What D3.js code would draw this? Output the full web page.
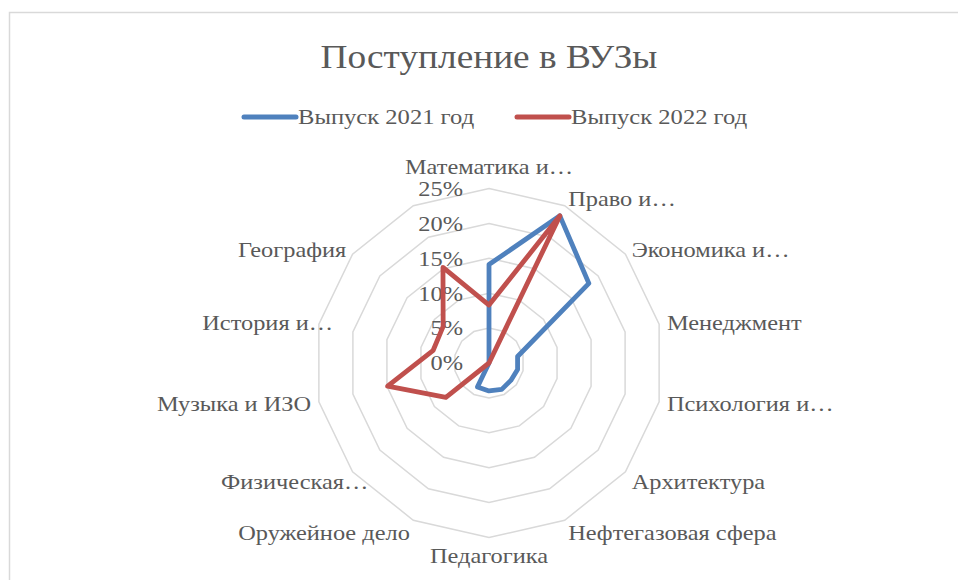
<!DOCTYPE html>
<html>
<head>
<meta charset="utf-8">
<script src="https://cdn.jsdelivr.net/npm/d3@7"></script>
<style>
  body { margin: 0; background: #fff; }
  svg text { font-family: "Liberation Serif", "Times New Roman", serif; fill: #595959; }
</style>
</head>
<body>
<svg id="chart" width="958" height="580"></svg>
<script>
// Data
var categories = ['Математика и…', 'Право и…', 'Экономика и…', 'Менеджмент', 'Психология и…',
  'Архитектура', 'Нефтегазовая сфера', 'Педагогика', 'Оружейное дело', 'Физическая…',
  'Музыка и ИЗО', 'История и…', 'География', ''];
var series2021 = [0.141, 0.234, 0.183, 0.042, 0.042, 0.040, 0.042, 0.040, 0.038, 0, 0, 0, 0, 0];
var series2022 = [0.083, 0.234, 0, 0, 0, 0, 0, 0, 0, 0.079, 0.149, 0.082, 0.084, 0.152];
var seriesNames = ['Выпуск 2021 год', 'Выпуск 2022 год'];
var ticks = [0, 0.05, 0.10, 0.15, 0.20, 0.25];

var colors = ['#4f81bd', '#c0504d'];

// Layout
var cx = 489, cy = 363, R = 174.5;

var svg = d3.select('#chart');

// the source text is a bit wider than Liberation Serif, stretch it
function stretch(sel, k) {
  sel.each(function () {
    var len = this.getComputedTextLength();
    if (len > 0) {
      d3.select(this)
        .attr('textLength', len * k)
        .attr('lengthAdjust', 'spacingAndGlyphs');
    }
  });
}

// chart border (runs past the bottom and right edge)
svg.append('rect')
  .attr('x', 9.5).attr('y', 12.5)
  .attr('width', 960).attr('height', 580)
  .attr('fill', 'none')
  .attr('stroke', '#d9d9d9')
  .attr('stroke-width', 1.5);

// title
svg.append('text')
  .attr('x', 489).attr('y', 68)
  .attr('text-anchor', 'middle')
  .style('font-size', '33px')
  .text('Поступление в ВУЗы')
  .call(stretch, 1.13);

// legend
var legendX = [244, 517];
seriesNames.forEach(function (name, i) {
  var g = svg.append('g').attr('transform', 'translate(' + legendX[i] + ',117)');
  g.append('line')
    .attr('x1', 0).attr('x2', 52)
    .attr('stroke', colors[i])
    .attr('stroke-width', 5)
    .attr('stroke-linecap', 'round');
  g.append('text')
    .attr('x', 54).attr('y', 0)
    .attr('dy', '0.35em')
    .style('font-size', '21px')
    .text(name)
    .call(stretch, 1.17);
});

var n = categories.length;
var r = d3.scaleLinear().domain([0, 0.25]).range([0, R]);
var angle = d3.scaleLinear().domain([0, n]).range([0, 2 * Math.PI]);

var plot = svg.append('g').attr('transform', 'translate(' + cx + ',' + cy + ')');

// rings
var ring = d3.lineRadial()
  .angle(function (d, i) { return angle(i); })
  .radius(function (d) { return r(d); })
  .curve(d3.curveLinearClosed);

plot.selectAll('.ring')
  .data(ticks.slice(1))
  .enter().append('path')
  .attr('class', 'ring')
  .attr('d', function (t) { return ring(d3.range(n).map(function () { return t; })); })
  .attr('fill', 'none')
  .attr('stroke', '#d9d9d9')
  .attr('stroke-width', 1.5);

// ring labels
plot.selectAll('.tick')
  .data(ticks)
  .enter().append('text')
  .attr('class', 'tick')
  .attr('x', -26)
  .attr('y', function (t) { return -r(t); })
  .attr('dy', '0.35em')
  .attr('text-anchor', 'end')
  .style('font-size', '21px')
  .text(d3.format('.0%'))
  .call(stretch, 1.16);

// category labels
plot.selectAll('.cat')
  .data(categories)
  .enter().append('text')
  .attr('class', 'cat')
  .style('font-size', '21px')
  .each(function (d, i) {
    var a = angle(i), s = Math.sin(a), c = Math.cos(a);
    var lr = R + 8;
    var x = lr * s, y = -lr * c;
    var anchor = 'middle', dy = '0.35em';
    if (s > 0.01) anchor = 'start';
    else if (s < -0.01) { anchor = 'end'; if (/…$/.test(d)) x += 22; }
    if (Math.abs(s) < 0.01) dy = c > 0 ? '-0.3em' : '0.85em';
    else if (c < -0.5) { y += 5; }
    d3.select(this)
      .attr('x', x).attr('y', y).attr('dy', dy)
      .attr('text-anchor', anchor)
      .text(d);
  })
  .call(stretch, 1.16);

// series lines
var line = d3.lineRadial()
  .angle(function (d, i) { return angle(i); })
  .radius(function (d) { return r(d); })
  .curve(d3.curveLinearClosed);

[series2021, series2022].forEach(function (values, i) {
  plot.append('path')
    .attr('d', line(values))
    .attr('fill', 'none')
    .attr('stroke', colors[i])
    .attr('stroke-width', 4.8)
    .attr('stroke-linejoin', 'round');
});
</script>
</body>
</html>
